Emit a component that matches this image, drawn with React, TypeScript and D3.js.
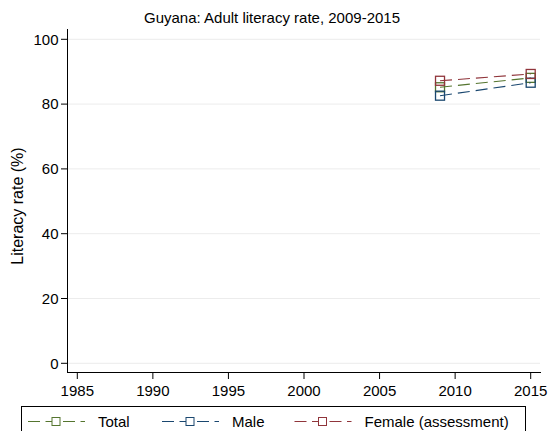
import * as d3 from 'd3';
import React from 'react';

const years = [2009, 2015];
const totalRate = [85.2, 88.1];
const maleRate = [82.6, 86.6];
const femaleRate = [87.2, 89.3];
const xTicks = [1985, 1990, 1995, 2000, 2005, 2010, 2015];
const yTicks = [0, 20, 40, 60, 80, 100];

const seriesList = [
	{ name: 'Total', values: totalRate, color: '#55752f' },
	{ name: 'Male', values: maleRate, color: '#1a476f' },
	{ name: 'Female (assessment)', values: femaleRate, color: '#90353b' },
];

const W = 549;
const H = 431;
const font = '"Liberation Sans", Arial, sans-serif';

const App = () => {
	const x = d3.scaleLinear().domain([1985, 2015]).range([77.3, 530.7]);
	const y = d3.scaleLinear().domain([0, 100]).range([363.3, 39.3]);
	const line = d3.line<number>().x((_, i) => x(years[i])).y(d => y(d));

	const axisY = 372.5;
	const legendMarker = [56, 190, 322.5];

	return (
		<svg width={W} height={H} style={{ position: 'absolute', left: 0, top: 0, background: '#fff' }} fontFamily={font}>
			<rect x={0} y={0} width={W} height={H} fill="#fff" />
			<text x={272} y={23} textAnchor="middle" fontSize={15}>Guyana: Adult literacy rate, 2009-2015</text>

			{yTicks.map(t => (
				<g key={t}>
					<line x1={67.5} x2={540} y1={y(t)} y2={y(t)} stroke="#ececec" strokeWidth={1} />
					<line x1={61} x2={67.5} y1={y(t)} y2={y(t)} stroke="#000" />
					<text x={58.5} y={y(t) + 5.2} textAnchor="end" fontSize={15}>{t}</text>
				</g>
			))}
			<line x1={67.5} x2={67.5} y1={29} y2={axisY} stroke="#000" />
			<line x1={67} x2={541} y1={axisY} y2={axisY} stroke="#000" />
			{xTicks.map(t => (
				<g key={t}>
					<line x1={x(t)} x2={x(t)} y1={axisY} y2={379} stroke="#000" />
					<text x={x(t)} y={396} textAnchor="middle" fontSize={15}>{t}</text>
				</g>
			))}
			<text transform={`translate(23, 206) rotate(-90)`} textAnchor="middle" fontSize={16}>Literacy rate (%)</text>

			{seriesList.map(s => (
				<g key={s.name}>
					<path d={line(s.values) || ''} fill="none" stroke={s.color} strokeWidth={1.1} strokeDasharray="12 6" />
					{s.values.map((v, i) => (
						<rect key={i} x={x(years[i]) - 4.5} y={y(v) - 4.5} width={9} height={9} fill="none" stroke={s.color} strokeWidth={1.3} />
					))}
				</g>
			))}

			<rect x={21.5} y={406.5} width={504} height={30} fill="#fff" stroke="#000" />
			{seriesList.map((s, i) => (
				<g key={s.name}>
					<line x1={legendMarker[i] - 28} x2={legendMarker[i] + 29} y1={421.5} y2={421.5} stroke={s.color} strokeDasharray="12 5.5" />
					<rect x={legendMarker[i] - 4} y={417.5} width={8} height={8} fill="#fff" stroke={s.color} />
					<text x={legendMarker[i] + 42} y={426.5} fontSize={15}>{s.name}</text>
				</g>
			))}
		</svg>
	);
};

export default App;
